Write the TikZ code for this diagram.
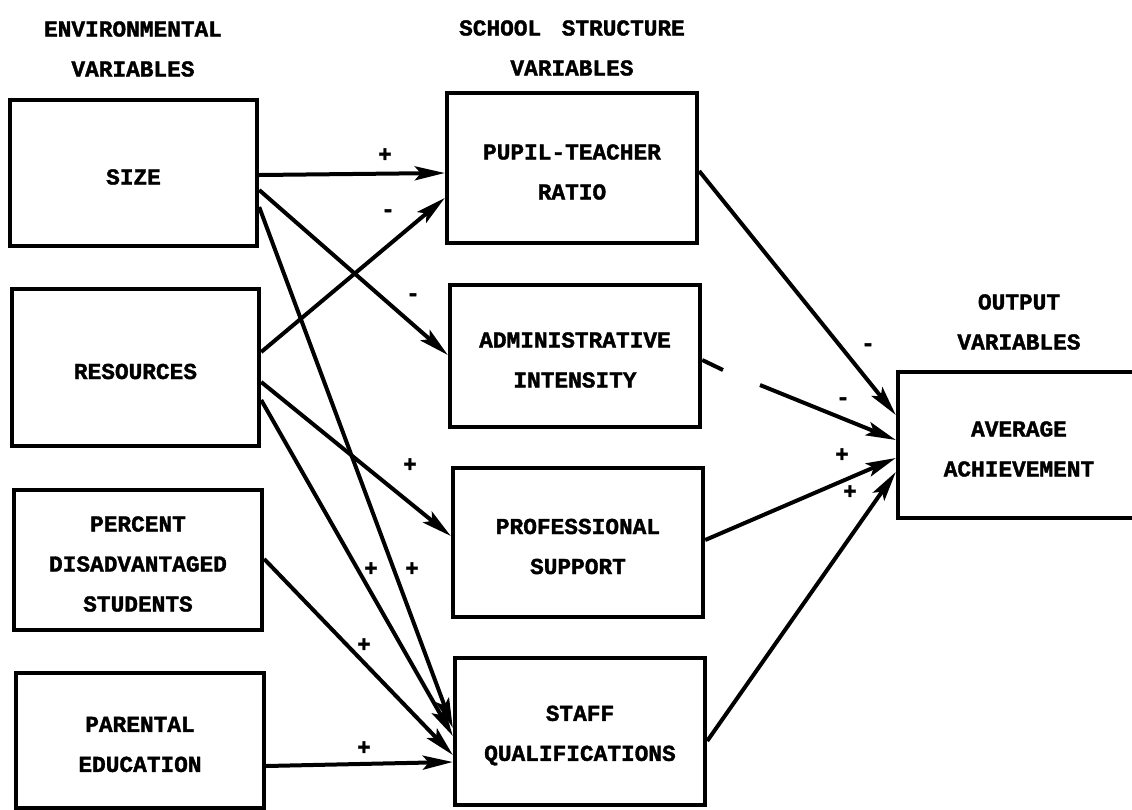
\documentclass[tikz,border=0pt]{standalone}
\usepackage{fontspec}
\setmainfont{Liberation Mono}[BoldFeatures={FakeBold=1.6}]
\usetikzlibrary{arrows.meta,fit}
\newcommand{\vartext}{\fontsize{11.4}{20}\selectfont\bfseries}
\tikzset{>={Stealth[length=15pt,width=7pt,inset=3pt]}}
\tikzset{
  box/.style={draw, line width=2.2pt, inner sep=0pt},
  boxtext/.style={align=center, font=\vartext},
  head/.style={align=center, font=\vartext},
  sign/.style={font=\vartext},
  link/.style={->, line width=2pt},
}

\begin{document}
\begin{tikzpicture}[x=0.5pt,y=-0.5pt]
  \useasboundingbox (0,0) rectangle (1132,810);
  % headings
  \node[head] (envhd) at (133,49) {ENVIRONMENTAL\\VARIABLES};
  \node[head] (schhd) at (572,48) {SCHOOL\hspace{0.9em}STRUCTURE\\VARIABLES};
  \node[head] (outhd) at (1019,322) {OUTPUT\\VARIABLES};
  % environmental variables
  \node[box, fit={(10,100) (257,246)}] (size) {};
  \node[box, fit={(12,289) (259,446)}] (res) {};
  \node[box, fit={(14,490) (262,630)}] (pct) {};
  \node[box, fit={(16,673) (264,808)}] (par) {};
  % school structure variables
  \node[box, fit={(447,93) (697,243)}] (ptr) {};
  \node[box, fit={(450,285) (700,427)}] (adm) {};
  \node[box, fit={(453,468) (703,617)}] (prof) {};
  \node[box, fit={(455,658) (705,805)}] (staff) {};
  % output variable
  \node[box, fit={(898,372) (1140,518)}] (avg) {};

  % box texts
  \node[boxtext] (sizet)  at ([yshift=-2pt]size.center)  {SIZE};
  \node[boxtext] (rest)   at ([yshift=-2pt]res.center)   {RESOURCES};
  \node[boxtext] (pctt)   at ([yshift=-2pt]pct.center)   {PERCENT\\DISADVANTAGED\\STUDENTS};
  \node[boxtext] (part)   at ([yshift=-2pt]par.center)   {PARENTAL\\EDUCATION};
  \node[boxtext] (ptrt)   at ([yshift=-2pt]ptr.center)   {PUPIL-TEACHER\\RATIO};
  \node[boxtext] (admt)   at ([yshift=-2pt]adm.center)   {ADMINISTRATIVE\\INTENSITY};
  \node[boxtext] (proft)  at ([yshift=-2pt]prof.center)  {PROFESSIONAL\\SUPPORT};
  \node[boxtext] (stafft) at ([yshift=-2pt]staff.center) {STAFF\\QUALIFICATIONS};
  \node[boxtext] (avgt)   at ([yshift=-2pt]avg.center)   {AVERAGE\\ACHIEVEMENT};

  % environment -> school structure
  \draw[link] (size.east |- 0,175) -- (ptr.west |- 0,173);
  \draw[link] (size.east |- 0,190) -- (adm.west |- 0,355);
  \draw[link] (size.east |- 0,207) -- (staff.west |- 0,728);
  \draw[link] (res.east |- 0,352) -- (ptr.west |- 0,198);
  \draw[link] (res.east |- 0,382) -- (prof.west |- 0,536);
  \draw[link] (res.east |- 0,400) -- (staff.west |- 0,736);
  \draw[link] (pct.east |- 0,559) -- (staff.west |- 0,755);
  \draw[link] (par.east |- 0,766) -- (staff.west |- 0,762);
  % school structure -> output
  \draw[link] (ptr.east |- 0,171) -- (avg.west |- 0,415);
  \coordinate (gapa) at (723,370);
  \coordinate (gapb) at (760,385);
  \draw[link,-] (adm.east |- 0,360) -- (gapa);
  \draw[link] (gapb) -- (avg.west |- 0,440);
  \draw[link] (prof.east |- 0,540) -- (avg.west |- 0,458);
  \draw[link] (staff.east |- 0,741) -- (avg.west |- 0,472);

  % signs
  \node[sign] (p1) at (385,155) {+};
  \node[sign] (m1) at (413,297) {-};
  \node[sign] (p2) at (412,569) {+};
  \node[sign] (m2) at (388,213) {-};
  \node[sign] (p3) at (410,465) {+};
  \node[sign] (p4) at (371,569) {+};
  \node[sign] (p5) at (364,645) {+};
  \node[sign] (p6) at (364,748) {+};
  \node[sign] (m3) at (868,347) {-};
  \node[sign] (m4) at (843,401) {-};
  \node[sign] (p7) at (842,455) {+};
  \node[sign] (p8) at (850,492) {+};
\end{tikzpicture}
\end{document}
